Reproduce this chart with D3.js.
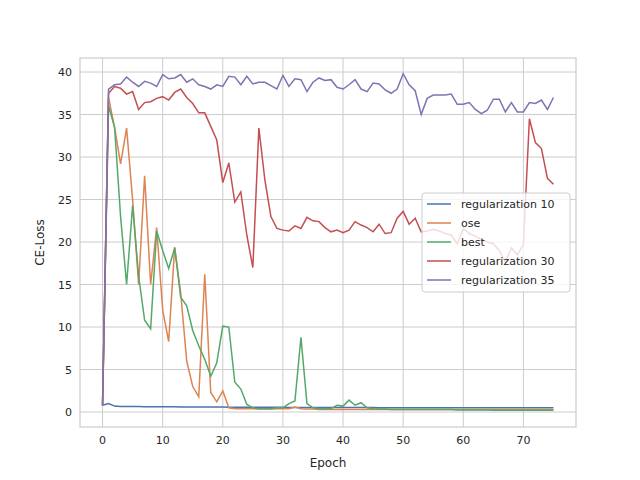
<!DOCTYPE html>
<html><head><meta charset="utf-8">
<script src="https://cdn.jsdelivr.net/npm/d3@7"></script>
<style>body{margin:0;background:#fff}text{font-family:"DejaVu Sans",sans-serif}</style>
</head><body><svg id="chart" width="640" height="480"></svg>
<script>
var reg35 = [0.8,38,38.5,38.6,39.4,38.8,38.3,38.9,38.7,38.3,39.7,39.2,39.3,39.7,38.8,39.2,38.5,38.3,38.0,38.5,38.3,39.5,39.4,38.5,39.5,38.6,38.8,38.8,38.4,38.0,39.6,38.3,39.2,39.1,37.7,38.8,39.3,39.0,39.1,38.2,38.0,38.5,39.1,38.0,37.7,38.7,38.6,37.9,37.5,38.0,39.8,38.5,37.8,35.0,36.9,37.3,37.3,37.3,37.4,36.2,36.2,36.4,35.6,35.1,35.5,36.8,36.8,35.3,36.4,35.3,35.3,36.4,36.3,36.7,35.6,37.0];
var reg30 = [0.8,37.5,38.3,38.1,37.4,37.7,35.6,36.4,36.5,36.9,37.1,36.7,37.6,38.0,37.0,36.3,35.2,35.2,33.6,32.0,27.0,29.3,24.7,25.9,20.8,17.0,33.4,27.3,23.0,21.6,21.4,21.3,21.9,21.6,22.9,22.5,22.4,21.7,21.2,21.4,21.1,21.4,22.4,22.0,21.7,21.2,22.1,21.0,21.1,22.8,23.6,22.1,22.8,21.2,21.3,21.5,21.3,21.0,20.8,19.8,21.6,21.0,20.7,20.3,20.0,19.8,19.0,17.6,19.3,18.5,19.7,34.5,31.7,31.0,27.5,26.8];
var ose = [0.8,37,33.5,29.2,33.4,25,15,27.8,15,21.7,12,8.3,19.4,14,6,3,1.8,16.2,2.3,1.2,2.5,0.5,0.4,0.4,0.4,0.4,0.35,0.35,0.35,0.4,0.4,0.4,0.6,0.4,0.35,0.35,0.3,0.3,0.3,0.3,0.3,0.3,0.3,0.3,0.3,0.3,0.3,0.3,0.3,0.3,0.3,0.3,0.3,0.3,0.3,0.3,0.3,0.3,0.3,0.3,0.3,0.3,0.3,0.3,0.3,0.3,0.3,0.3,0.3,0.3,0.3,0.3,0.3,0.3,0.3,0.3];
var best = [0.8,36,33.5,23,15,24.3,16,10.8,9.8,21.3,19,16.9,19.3,13.5,12.5,9.6,7.8,6.2,4.2,5.8,10.1,10,3.5,2.7,0.9,0.5,0.4,0.4,0.4,0.5,0.5,1.0,1.3,8.8,1.0,0.5,0.4,0.4,0.4,0.8,0.7,1.4,0.8,1.1,0.5,0.4,0.35,0.35,0.3,0.3,0.3,0.3,0.3,0.3,0.3,0.3,0.3,0.3,0.3,0.25,0.25,0.25,0.25,0.25,0.25,0.2,0.2,0.2,0.2,0.2,0.2,0.2,0.2,0.2,0.2,0.2];
var reg10 = [0.8,1.0,0.7,0.65,0.65,0.64,0.64,0.63,0.63,0.62,0.62,0.61,0.61,0.6,0.6,0.6,0.59,0.59,0.58,0.58,0.58,0.57,0.57,0.57,0.56,0.56,0.56,0.55,0.55,0.55,0.55,0.54,0.54,0.54,0.54,0.53,0.53,0.53,0.53,0.53,0.52,0.52,0.52,0.52,0.52,0.52,0.51,0.51,0.51,0.51,0.51,0.51,0.5,0.5,0.5,0.5,0.5,0.5,0.5,0.5,0.5,0.5,0.5,0.5,0.5,0.5,0.5,0.5,0.5,0.5,0.5,0.5,0.5,0.5,0.5,0.5];
var names = ["regularization 10","ose","best","regularization 30","regularization 35"];
var colors = ["#4c72b0","#dd8452","#55a868","#c44e52","#8172b3"];
var series = [reg10, ose, best, reg30, reg35];
var xTicks = [0,10,20,30,40,50,60,70];
var yTicks = [0,5,10,15,20,25,30,35,40];

var svg = d3.select("#chart");
var L = 80, R = 576, T = 58, B = 427;
var x = d3.scaleLinear().domain([-3.75, 78.75]).range([L, R]);
var y = d3.scaleLinear().domain([-1.76, 41.65]).range([B, T]);

var g = svg.append("g");
g.selectAll(".gx").data(xTicks).enter().append("line")
  .attr("x1", d => x(d)).attr("x2", d => x(d)).attr("y1", T).attr("y2", B)
  .attr("stroke", "#cccccc").attr("stroke-width", 1);
g.selectAll(".gy").data(yTicks).enter().append("line")
  .attr("y1", d => y(d)).attr("y2", d => y(d)).attr("x1", L).attr("x2", R)
  .attr("stroke", "#cccccc").attr("stroke-width", 1);
g.append("rect").attr("x", L).attr("y", T).attr("width", R - L).attr("height", B - T)
  .attr("fill", "none").attr("stroke", "#cccccc").attr("stroke-width", 1.2);

g.selectAll(".xl").data(xTicks).enter().append("text")
  .attr("x", d => x(d)).attr("y", B + 17).attr("text-anchor", "middle")
  .attr("font-size", 11).attr("fill", "#262626").text(d => d);
g.selectAll(".yl").data(yTicks).enter().append("text")
  .attr("x", L - 8).attr("y", d => y(d) + 4).attr("text-anchor", "end")
  .attr("font-size", 11).attr("fill", "#262626").text(d => d);
svg.append("text").attr("x", (L + R) / 2).attr("y", 467).attr("text-anchor", "middle")
  .attr("font-size", 12).attr("fill", "#262626").text("Epoch");
svg.append("text").attr("transform", "translate(44," + ((T + B) / 2) + ") rotate(-90)")
  .attr("text-anchor", "middle").attr("font-size", 12).attr("fill", "#262626").text("CE-Loss");

var line = d3.line().x((d, i) => x(i)).y(d => y(d));
series.forEach(function(s, i) {
  svg.append("path").datum(s).attr("d", line).attr("fill", "none")
    .attr("stroke", colors[i]).attr("stroke-width", 1.5);
});

var lg = svg.append("g").attr("transform", "translate(422,193)");
lg.append("rect").attr("width", 148).attr("height", 99).attr("rx", 3)
  .attr("fill", "#fff").attr("fill-opacity", 0.8).attr("stroke", "#cccccc");
names.forEach(function(n, i) {
  var yy = 11 + i * 19;
  lg.append("line").attr("x1", 5).attr("x2", 29).attr("y1", yy).attr("y2", yy)
    .attr("stroke", colors[i]).attr("stroke-width", 1.5);
  lg.append("text").attr("x", 39).attr("y", yy + 4).attr("font-size", 11)
    .attr("fill", "#262626").text(n);
});
</script></body></html>
